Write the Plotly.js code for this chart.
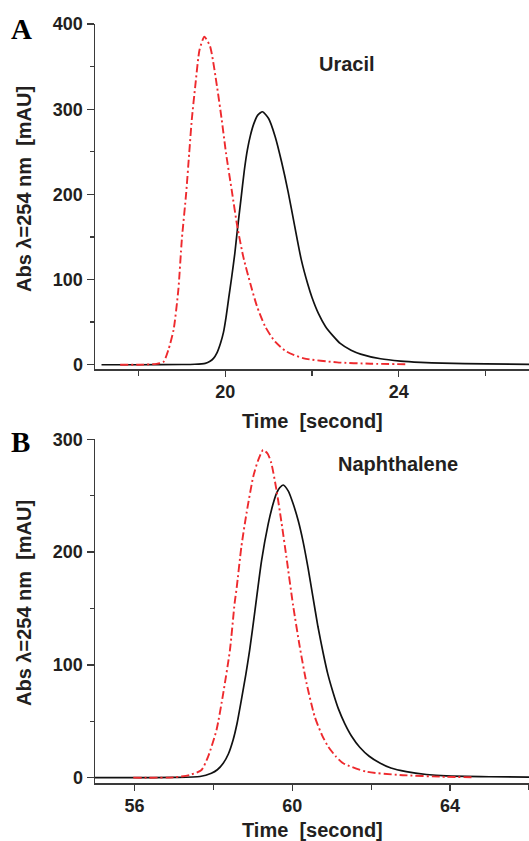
<!DOCTYPE html>
<html>
<head>
<meta charset="utf-8">
<script src="https://cdn.plot.ly/plotly-3.0.1.min.js"></script>
<style>html,body{margin:0;padding:0;background:#fff;}#chart{width:529px;height:841px;}</style>
</head>
<body>
<div id="chart"></div>
<script>
// Panel A: Uracil
const uracilBlackTime = [17.15, 18.0, 19.0, 19.3, 19.54, 19.65, 19.73, 19.81, 19.89, 19.96, 20.02, 20.08, 20.15, 20.22, 20.28, 20.36, 20.44, 20.51, 20.58, 20.66, 20.75, 20.86, 21.0, 21.15, 21.3, 21.45, 21.6, 21.75, 21.9, 22.0, 22.15, 22.31, 22.5, 22.65, 22.9, 23.12, 23.58, 24.04, 24.5, 25.0, 26.0, 27.0];
const uracilBlackAbs  = [0, 0, 0.3, 0.6, 1.6, 4, 7.5, 14, 25, 38, 56, 78, 103, 130, 158, 193, 228, 252, 269, 283, 293, 297, 289, 268, 238, 203, 163, 124, 95, 79, 60, 45, 33, 25, 17, 12.5, 7, 4.3, 2.8, 1.8, 0.9, 0.5];
const uracilRedTime = [17.58, 18.0, 18.42, 18.58, 18.69, 18.81, 18.92, 19.0, 19.1, 19.17, 19.23, 19.31, 19.41, 19.52, 19.65, 19.81, 19.92, 20.02, 20.15, 20.28, 20.42, 20.58, 20.73, 20.92, 21.15, 21.42, 21.81, 22.58, 23.35, 24.2];
const uracilRedAbs  = [0, 0, 1, 3.5, 17.3, 40.8, 87.8, 146.5, 201, 248, 287.6, 327, 370, 385, 374, 327, 287.6, 248, 205, 162, 126, 95, 69, 45, 27, 15.3, 7.5, 2.8, 1.2, 0.6];

// Panel B: Naphthalene
const naphBlackTime = [55, 56, 57, 57.66, 57.95, 58.1, 58.25, 58.38, 58.5, 58.6, 58.71, 58.82, 58.92, 59.05, 59.22, 59.39, 59.5, 59.6, 59.68, 59.77, 59.9, 60.02, 60.15, 60.27, 60.4, 60.52, 60.65, 60.78, 60.9, 61.03, 61.17, 61.33, 61.5, 61.71, 61.95, 62.22, 62.5, 62.89, 63.4, 63.9, 65, 66];
const naphBlackAbs  = [0, 0, 0.2, 1, 3.9, 7, 12.8, 21, 33.4, 48, 69, 91, 113, 147, 192, 225, 241, 252, 257, 259.5, 254, 243, 228, 210, 186, 161, 134, 111, 92, 76, 61, 48, 37, 27, 19, 13, 8.5, 5.3, 2.8, 1.5, 0.8, 0.5];
const naphRedTime = [55.97, 57.0, 57.4, 57.7, 57.87, 58.08, 58.25, 58.42, 58.54, 58.59, 58.71, 58.84, 59.01, 59.13, 59.26, 59.38, 59.47, 59.6, 59.73, 59.85, 60.02, 60.19, 60.36, 60.57, 60.75, 60.91, 61.1, 61.29, 61.88, 62.72, 63.9, 64.57];
const naphRedAbs  = [0, 0.3, 2.4, 6.8, 19, 42.3, 74.8, 113, 155, 168, 204.8, 234.4, 266.8, 281, 290.5, 287, 278.7, 255, 225.5, 196, 153, 116, 84, 54, 38, 27.5, 19, 12.8, 5.3, 2.4, 0.7, 0.4];

const panelLabels = ['A', 'B'];
const compoundNames = ['Uracil', 'Naphthalene'];
const xTitle = 'Time\u00a0\u00a0[second]';
const yTitle = 'Abs \u03bb=254 nm\u00a0\u00a0[mAU]';

const ink = '#231f20';
const red = '#ee2a2e';
const blackLine = {color: '#111111', width: 1.7, shape: 'spline', smoothing: 0.6};
const redLine = {color: red, width: 1.9, dash: '8px,3px,2px,3px', shape: 'spline', smoothing: 0.6};

const traces = [
  {x: uracilBlackTime, y: uracilBlackAbs, mode: 'lines', line: blackLine, xaxis: 'x', yaxis: 'y', hoverinfo: 'skip'},
  {x: uracilRedTime, y: uracilRedAbs, mode: 'lines', line: redLine, xaxis: 'x', yaxis: 'y', hoverinfo: 'skip'},
  {x: naphBlackTime, y: naphBlackAbs, mode: 'lines', line: blackLine, xaxis: 'x2', yaxis: 'y2', hoverinfo: 'skip'},
  {x: naphRedTime, y: naphRedAbs, mode: 'lines', line: redLine, xaxis: 'x2', yaxis: 'y2', hoverinfo: 'skip'}
];

const tickFont = {family: 'Liberation Sans, Arial, sans-serif', size: 18, color: ink, weight: 'bold'};
function xAxis(range, tick0, anchor) {
  return {
    range: range, tick0: tick0, dtick: 4, anchor: anchor,
    showgrid: false, zeroline: false, showline: true, linecolor: '#3a3a3a', linewidth: 1.5,
    ticks: 'outside', ticklen: 6, tickwidth: 1.3, tickcolor: '#3a3a3a',
    minor: {dtick: 2, tick0: tick0, ticks: 'outside', ticklen: 5, tickwidth: 1.3, tickcolor: '#3a3a3a', showgrid: false},
    tickfont: tickFont, fixedrange: true
  };
}
function yAxis(range, domain, anchor) {
  return {
    range: range, domain: domain, dtick: 100, tick0: 0, anchor: anchor,
    showgrid: false, zeroline: false, showline: true, linecolor: '#3a3a3a', linewidth: 1.5,
    ticks: 'outside', ticklen: 7, tickwidth: 1.3, tickcolor: '#3a3a3a',
    minor: {dtick: 50, tick0: 0, ticks: 'outside', ticklen: 4, tickwidth: 1.3, tickcolor: '#3a3a3a', showgrid: false},
    tickfont: tickFont, fixedrange: true
  };
}

const W = 529, H = 841, L = 95;
const px = v => (v - L) / (W - L);
const py = v => 1 - v / H;

const titleFont = {family: 'Liberation Sans, Arial, sans-serif', size: 20, color: ink, weight: 'bold'};
const letterFont = {family: 'Liberation Serif, Times New Roman, serif', size: 29, color: '#000', weight: 'bold'};

const ann = [
  {text: panelLabels[0], x: px(21), y: py(29), font: letterFont},
  {text: panelLabels[1], x: px(20), y: py(442), font: letterFont},
  {text: compoundNames[0], x: px(347), y: py(64), font: titleFont},
  {text: compoundNames[1], x: px(398), y: py(464), font: titleFont},
  {text: xTitle, x: px(312), y: py(421), font: titleFont},
  {text: xTitle, x: px(312), y: py(830), font: titleFont},
  {text: yTitle, x: px(24), y: py(189), font: titleFont, textangle: -90},
  {text: yTitle, x: px(24), y: py(603), font: titleFont, textangle: -90}
].map(a => Object.assign({xref: 'paper', yref: 'paper', showarrow: false, xanchor: 'center', yanchor: 'middle'}, a));

const layout = {
  width: W, height: H,
  margin: {l: L, r: 0, t: 0, b: 0, pad: 0},
  paper_bgcolor: '#fff', plot_bgcolor: '#fff',
  showlegend: false,
  font: {family: 'Liberation Sans, Arial, sans-serif', color: ink},
  xaxis: Object.assign(xAxis([17, 27], 20, 'y'), {domain: [0, 1]}),
  yaxis: yAxis([-5, 400], [py(369), py(24)], 'x'),
  xaxis2: Object.assign(xAxis([55, 66], 56, 'y2'), {domain: [0, 1]}),
  yaxis2: yAxis([-5, 300], [py(783.3), py(439.3)], 'x2'),
  annotations: ann
};

Plotly.newPlot('chart', traces, layout, {staticPlot: true, displayModeBar: false});
</script>
</body>
</html>
